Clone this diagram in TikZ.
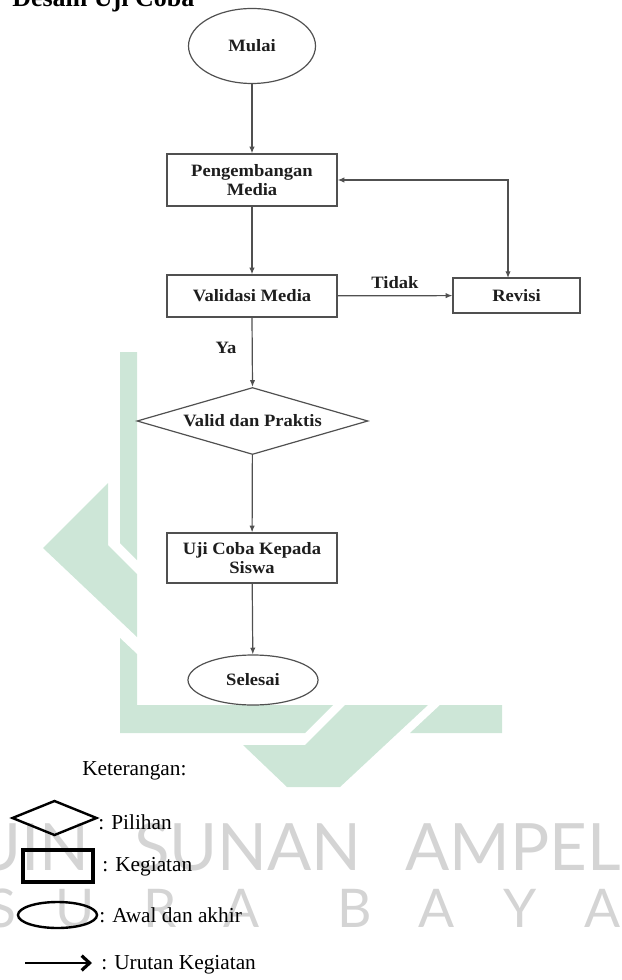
\documentclass[tikz,border=0pt]{standalone}
\usepackage{fontspec}
\setmainfont{Liberation Serif}
\newfontfamily\flowfont[FakeStretch=1.07]{Liberation Serif}
\newfontfamily\wmfont{Lato}
\usetikzlibrary{shapes.geometric,arrows.meta}
\definecolor{wmgreen}{RGB}{205,230,215}
\definecolor{wmgray}{RGB}{212,212,212}
\definecolor{flowline}{RGB}{80,80,80}
\definecolor{flowtext}{RGB}{30,30,30}
\begin{document}
\begin{tikzpicture}[x=0.75pt,y=-0.75pt,
  >={Latex[length=5pt,width=4pt]},
  flowbox/.style={draw=flowline, line width=0.9pt, rectangle, inner sep=0pt,
    align=center, text=flowtext, font=\flowfont\bfseries\fontsize{13}{14}\selectfont},
  flowoval/.style={flowbox, ellipse},
  flowdia/.style={flowbox, diamond, shape aspect=3.4},
  flowarr/.style={draw=flowline, line width=0.9pt, ->},
  flowlabel/.style={inner sep=0pt, text=flowtext, font=\flowfont\bfseries\fontsize{13}{14}\selectfont},
  legtext/.style={anchor=west, inner sep=0pt, font=\fontsize{16}{18}\selectfont},
  wmtext/.style={inner sep=0pt, text=wmgray, anchor=base},
]
\useasboundingbox (0,0) rectangle (621,980);
% watermark shapes
\fill[wmgreen] (120,352) -- (137,352) -- (137,560) -- (120,543) -- cycle;
\fill[wmgreen] (43,548) -- (108,483) -- (108,545) -- (137,574) -- (137,637) -- cycle;
\fill[wmgreen] (120,638) -- (137,654) -- (137,705) -- (333,705) -- (305,733) -- (120,733) -- cycle;
\fill[wmgreen] (345,705) -- (428,705) -- (340,787) -- (287,787) -- (243,745) -- (305,745) -- cycle;
\fill[wmgreen] (440,705) -- (502,705) -- (502,733) -- (410,733) -- cycle;
% watermark text
\node[wmtext, anchor=base east, font=\wmfont\fontsize{49}{50}\selectfont] (wm1) at (90,870) {UIN};
\node[wmtext, font=\wmfont\fontsize{49}{50}\selectfont] (wm2) at (248,870) {SUNAN};
\node[wmtext, font=\wmfont\fontsize{49}{50}\selectfont] (wm3) at (513,870) {AMPEL};
\foreach \lx/\lt [count=\i] in {2/S,75/U,160/R,242/A,355/B,437/A,520/Y,603/A}
  \node[wmtext, font=\wmfont\fontsize{40}{42}\selectfont] (wms\i) at (\lx,927) {\lt};
% title
\node[anchor=base west, inner sep=0pt, font=\bfseries\fontsize{19.5}{22}\selectfont] (title) at (12,7) {Desain Uji Coba};
% flowchart
\node[flowoval, minimum width=95.25pt, minimum height=56.25pt] (mulai) at (252,46) {Mulai};
\node[flowbox, minimum width=127.5pt, minimum height=39pt] (peng) at (252,180) {Pengembangan\\Media};
\node[flowbox, minimum width=127.5pt, minimum height=31.5pt] (valid) at (252,296) {Validasi Media};
\node[flowbox, minimum width=95.25pt, minimum height=26.25pt] (revisi) at (516.5,295.5) {Revisi};
\node[flowdia, minimum width=173.25pt, minimum height=50.25pt] (cek) at (252.5,421) {Valid dan Praktis};
\node[flowbox, minimum width=127.5pt, minimum height=37.5pt] (uji) at (252,558) {Uji Coba Kepada\\Siswa};
\node[flowoval, minimum width=97.5pt, minimum height=37.5pt] (selesai) at (253,680) {Selesai};
\coordinate (rvtop) at (508,278);
\draw[flowarr] (mulai) -- (peng);
\draw[flowarr] (peng) -- (valid);
\draw[flowarr] (valid) -- (revisi);
\draw[flowarr] (valid.south) -- (cek.north);
\draw[flowarr] (cek) -- (uji);
\draw[flowarr] (uji) -- (selesai);
\draw[flowarr, <->] (peng.east) -| (rvtop);
\node[flowlabel] (tidak) at (395,283) {Tidak};
\node[flowlabel] (ya) at (226,348) {Ya};
% legend
\node[legtext] (ket) at (82,771) {Keterangan:};
\node[diamond, draw, line width=1.8pt, inner sep=0pt, minimum width=63.75pt, minimum height=26.25pt] (legdia) at (54.5,818) {};
\node[rectangle, draw, line width=2.3pt, inner sep=0pt, minimum width=52.5pt, minimum height=24pt] (legbox) at (58,866) {};
\node[ellipse, draw, line width=1.8pt, inner sep=0pt, minimum width=59.25pt, minimum height=19.5pt] (legoval) at (57.5,915) {};
\coordinate (la) at (25,963);
\coordinate (lb) at (92,963);
\draw[line width=2pt, -{Straight Barb[length=6pt,width=11pt,line width=2.4pt]}] (la) -- (lb);
\node[legtext] (t1) at (98,822) {: Pilihan};
\node[legtext] (t2) at (102,867) {: Kegiatan};
\node[legtext] (t3) at (99,915) {: Awal dan akhir};
\node[legtext] (t4) at (101,965) {: Urutan Kegiatan};
\end{tikzpicture}
\end{document}
